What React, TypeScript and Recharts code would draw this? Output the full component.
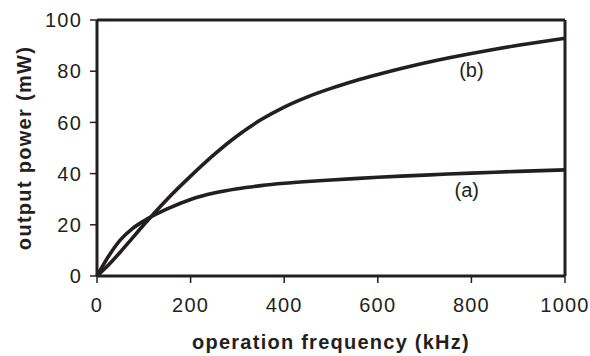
import React from 'react';
import { LineChart, Line, XAxis, YAxis, ReferenceLine, ReferenceDot, Label } from 'recharts';

const freq = [0, 25, 50, 75, 100, 150, 200, 250, 300, 350, 400, 450, 500, 550, 600, 650, 700, 750, 800, 850, 900, 950, 1000];
const powerA = [0, 7.8, 14.1, 18.4, 21.5, 26.2, 29.9, 32.4, 34.1, 35.3, 36.2, 36.9, 37.5, 38.05, 38.55, 39.0, 39.42, 39.82, 40.2, 40.55, 40.87, 41.17, 41.45];
const powerB = [0, 4.4, 9.4, 14.7, 20.0, 30.0, 39.0, 47.4, 54.8, 61.0, 66.0, 70.0, 73.3, 76.15, 78.7, 81.05, 83.2, 85.15, 86.95, 88.6, 90.1, 91.5, 92.85];
const xTicks = [0, 200, 400, 600, 800, 1000];
const yTicks = [0, 20, 40, 60, 80, 100];

const data = freq.map((f, i) => ({ f, a: powerA[i], b: powerB[i] }));

const ink = '#231f20';
const font = '"Liberation Sans", Arial, Helvetica, sans-serif';
const tickStyle = { fill: ink, fontSize: 20, fontFamily: font, letterSpacing: 1.2 };

const YTitle = () => (
  <text
    x={24}
    y={148}
    transform="rotate(-90 24 148)"
    textAnchor="middle"
    dominantBaseline="central"
    fill={ink}
    fontFamily={font}
    fontSize={20}
    fontWeight="bold"
    letterSpacing={1.3}
  >
    output power (mW)
  </text>
);

const App: React.FC = () => {
  return (
    <div style={{ position: 'absolute', left: 0, top: 0, background: '#fff' }}>
      <LineChart width={590} height={356} data={data} margin={{ top: 20, right: 25, left: 0, bottom: 0 }}>
        <XAxis
          dataKey="f"
          type="number"
          domain={[0, 1000]}
          ticks={xTicks}
          height={80}
          tickSize={7}
          tickMargin={15}
          stroke={ink}
          strokeWidth={3}
          tick={tickStyle}
          tickLine={{ stroke: ink, strokeWidth: 1.5 }}
        >
          <Label
            value="operation frequency (kHz)"
            position="insideBottom"
            offset={7}
            style={{ fill: ink, fontSize: 20, fontWeight: 'bold', fontFamily: font, letterSpacing: 1.25 }}
          />
        </XAxis>
        <YAxis
          type="number"
          domain={[0, 100]}
          ticks={yTicks}
          width={97}
          tickSize={7}
          tickMargin={8}
          stroke={ink}
          strokeWidth={3}
          tick={tickStyle}
          tickLine={{ stroke: ink, strokeWidth: 1.5 }}
        >
          <Label content={<YTitle />} />
        </YAxis>
        <ReferenceLine y={100} stroke={ink} strokeWidth={3} />
        <ReferenceLine x={1000} stroke={ink} strokeWidth={3} />
        <Line type="monotone" dataKey="a" stroke={ink} strokeWidth={3.6} dot={false} isAnimationActive={false} />
        <Line type="monotone" dataKey="b" stroke={ink} strokeWidth={3.6} dot={false} isAnimationActive={false} />
        <ReferenceDot
          x={800}
          y={80.4}
          r={1}
          fill="none"
          stroke="none"
          label={{ value: '(b)', position: 'center', fill: ink, fontSize: 20, fontFamily: font }}
        />
        <ReferenceDot
          x={790}
          y={33.5}
          r={1}
          fill="none"
          stroke="none"
          label={{ value: '(a)', position: 'center', fill: ink, fontSize: 20, fontFamily: font }}
        />
      </LineChart>
    </div>
  );
};

export default App;
